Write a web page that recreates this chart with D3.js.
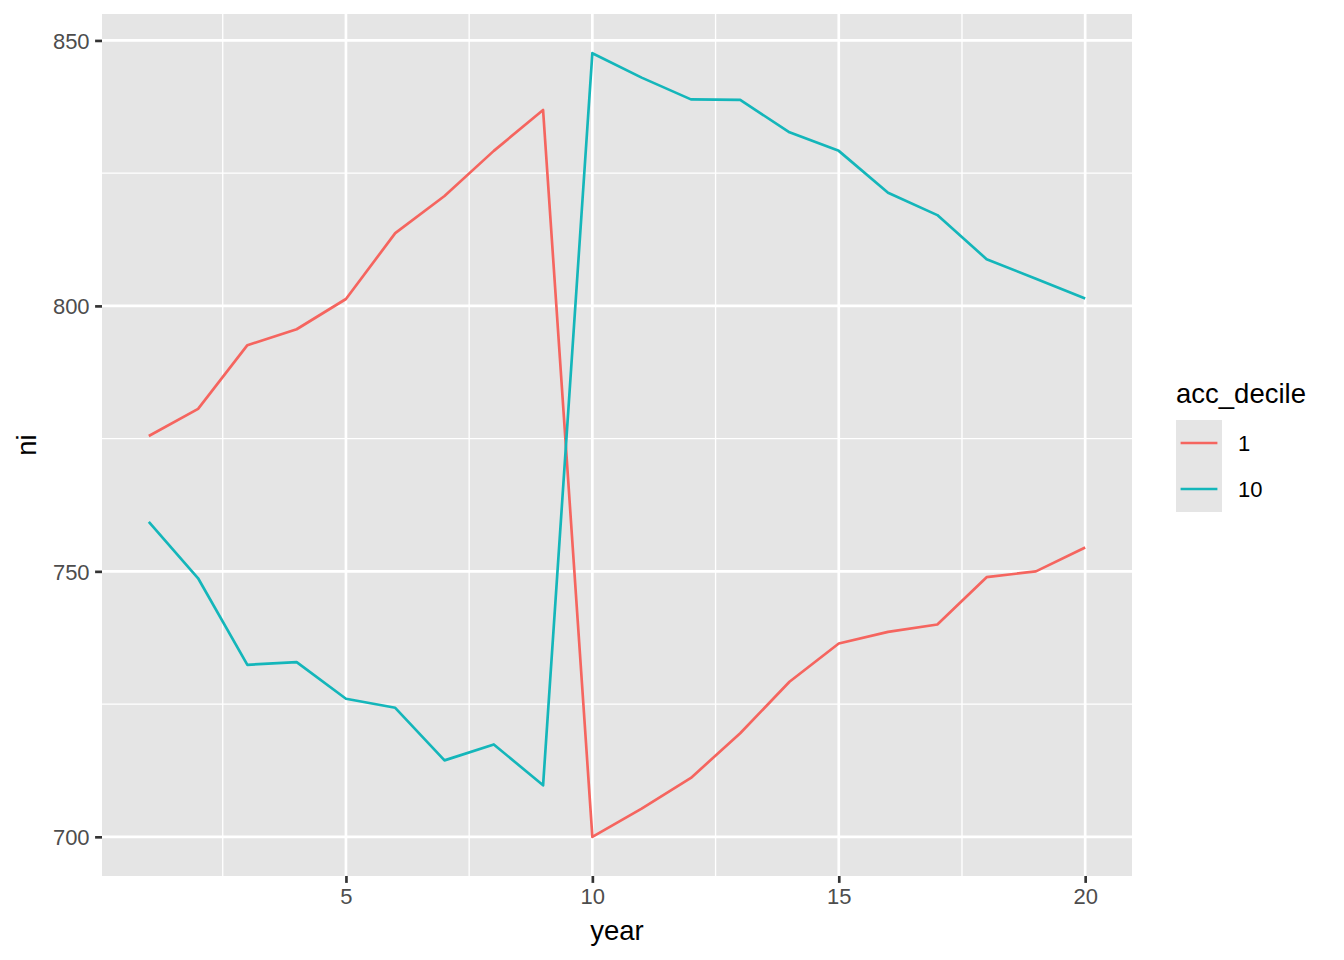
<!DOCTYPE html>
<html>
<head>
<meta charset="utf-8">
<script src="https://cdn.jsdelivr.net/npm/d3@7"></script>
<style>
  html, body { margin: 0; padding: 0; background: #fff; }
  svg { display: block; font-family: "Liberation Sans", Arial, Helvetica, sans-serif; }
</style>
</head>
<body>
<svg id="chart" width="1344" height="960"></svg>
<script>
const years = [1,2,3,4,5,6,7,8,9,10,11,12,13,14,15,16,17,18,19,20];
const decile1 = [775.5,780.6,792.6,795.6,801.3,813.7,820.7,829.2,836.9,700.0,705.3,711.1,719.5,729.2,736.4,738.6,740.0,748.9,750.0,754.5];
const decile10 = [759.3,748.7,732.4,732.9,726.0,724.3,714.4,717.4,709.7,847.6,843.0,838.9,838.8,832.7,829.2,821.3,817.1,808.8,805.1,801.4];
const seriesNames = ["1", "10"];
const seriesColors = ["#F5655F", "#14B6BA"];
const xTicks = [5, 10, 15, 20];
const xMinor = [2.5, 7.5, 12.5, 17.5];
const yTicks = [700, 750, 800, 850];
const yMinor = [725, 775, 825];

const series = [decile1, decile10];

const svg = d3.select("#chart");
const panel = {left: 102, right: 1132, top: 14, bottom: 876};
const panelBg = "#E5E5E5";

const all = decile1.concat(decile10);
const yMin = d3.min(all), yMax = d3.max(all);
const yPad = (yMax - yMin) * 0.05;
const xMinV = d3.min(years), xMaxV = d3.max(years);
const xPad = (xMaxV - xMinV) * 0.05;

const x = d3.scaleLinear().domain([xMinV - xPad, xMaxV + xPad]).range([panel.left, panel.right]);
const y = d3.scaleLinear().domain([yMin - yPad, yMax + yPad]).range([panel.bottom, panel.top]);

// panel background
svg.append("rect")
  .attr("x", panel.left).attr("y", panel.top)
  .attr("width", panel.right - panel.left).attr("height", panel.bottom - panel.top)
  .attr("fill", panelBg);

const grid = svg.append("g");
// minor gridlines
grid.selectAll(".xminor").data(xMinor).enter().append("line")
  .attr("x1", d => x(d)).attr("x2", d => x(d))
  .attr("y1", panel.top).attr("y2", panel.bottom)
  .attr("stroke", "#fff").attr("stroke-width", 1.33);
grid.selectAll(".yminor").data(yMinor).enter().append("line")
  .attr("y1", d => y(d)).attr("y2", d => y(d))
  .attr("x1", panel.left).attr("x2", panel.right)
  .attr("stroke", "#fff").attr("stroke-width", 1.33);
// major gridlines
grid.selectAll(".xmajor").data(xTicks).enter().append("line")
  .attr("x1", d => x(d)).attr("x2", d => x(d))
  .attr("y1", panel.top).attr("y2", panel.bottom)
  .attr("stroke", "#fff").attr("stroke-width", 2.67);
grid.selectAll(".ymajor").data(yTicks).enter().append("line")
  .attr("y1", d => y(d)).attr("y2", d => y(d))
  .attr("x1", panel.left).attr("x2", panel.right)
  .attr("stroke", "#fff").attr("stroke-width", 2.67);

// lines
const line = d3.line().x((d, i) => x(years[i])).y(d => y(d));
series.forEach((s, k) => {
  svg.append("path")
    .datum(s)
    .attr("d", line)
    .attr("fill", "none")
    .attr("stroke", seriesColors[k])
    .attr("stroke-width", 2.67)
    .attr("stroke-linejoin", "round");
});

// axes
const xAxis = d3.axisBottom(x).tickValues(xTicks).tickSize(6.9).tickPadding(5.5);
const gx = svg.append("g").attr("transform", `translate(0,${panel.bottom})`).call(xAxis);
gx.select(".domain").remove();
gx.selectAll(".tick line").attr("stroke", "#333333").attr("stroke-width", 2.67);
gx.selectAll(".tick text").attr("fill", "#4D4D4D").style("font-size", "22px").attr("dy", "0.72em");

const yAxis = d3.axisLeft(y).tickValues(yTicks).tickSize(6.9).tickPadding(5.5);
const gy = svg.append("g").attr("transform", `translate(${panel.left},0)`).call(yAxis);
gy.select(".domain").remove();
gy.selectAll(".tick line").attr("stroke", "#333333").attr("stroke-width", 2.67);
gy.selectAll(".tick text").attr("fill", "#4D4D4D").style("font-size", "22px").attr("dy", "0.36em");

// axis titles
svg.append("text")
  .attr("x", (panel.left + panel.right) / 2).attr("y", 940)
  .attr("text-anchor", "middle")
  .style("font-size", "27.5px").attr("fill", "#000")
  .text("year");
svg.append("text")
  .attr("transform", `translate(36,${(panel.top + panel.bottom) / 2}) rotate(-90)`)
  .attr("text-anchor", "middle")
  .style("font-size", "27.5px").attr("fill", "#000")
  .text("ni");

// legend
const lg = svg.append("g").attr("transform", "translate(1176,0)");
lg.append("text").attr("x", 0).attr("y", 403)
  .style("font-size", "27.5px").attr("fill", "#000")
  .text("acc_decile");
seriesNames.forEach((name, i) => {
  const top = 420 + i * 46;
  lg.append("rect").attr("x", 0).attr("y", top).attr("width", 46).attr("height", 46)
    .attr("fill", panelBg);
  lg.append("line").attr("x1", 4.6).attr("x2", 41.4)
    .attr("y1", top + 23).attr("y2", top + 23)
    .attr("stroke", seriesColors[i]).attr("stroke-width", 2.67);
  lg.append("text").attr("x", 62).attr("y", top + 23)
    .attr("dy", "0.36em")
    .style("font-size", "22px").attr("fill", "#000")
    .text(name);
});
</script>
</body>
</html>
